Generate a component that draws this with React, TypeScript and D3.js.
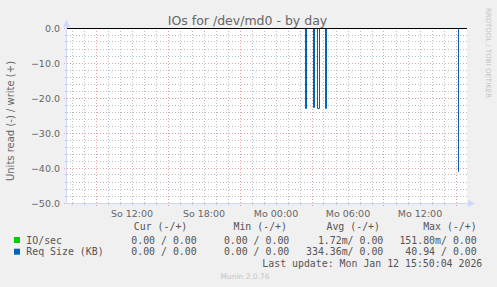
import React from "react";
import * as d3 from "d3";

const W = 497;
const H = 287;

const title = "IOs for /dev/md0 - by day";
const yAxisLabel = "Units read (-) / write (+)";
const dayNames = ["So", "Mo", "Di", "Mi", "Do", "Fr", "Sa"];

const startTime = new Date(2026, 0, 11, 6, 35);
const endTime = new Date(2026, 0, 12, 15, 55);

const yMin = -50;
const yMax = 0;
const yMajorTicks = [0, -10, -20, -30, -40, -50];

// Req Size (KB) read side (drawn negative), samples every 5 min
const reqTimes = [
  "2026-01-12T02:20", "2026-01-12T02:25", "2026-01-12T02:30",
  "2026-01-12T03:00", "2026-01-12T03:05", "2026-01-12T03:10",
  "2026-01-12T03:25", "2026-01-12T03:30", "2026-01-12T03:35",
  "2026-01-12T04:00", "2026-01-12T04:05", "2026-01-12T04:10",
  "2026-01-12T15:05", "2026-01-12T15:10", "2026-01-12T15:15",
];
const reqValues = [
  0, -22.9, 0,
  0, -22.8, 0,
  0, -23.0, 0,
  0, -22.9, 0,
  0, -40.94, 0,
];

// IO/sec read side (drawn negative)
const ioTimes = reqTimes;
const ioValues = [
  0, -0.12, 0,
  0, -0.15, 0,
  0, -0.1518, 0,
  0, -0.13, 0,
  0, -0.08, 0,
];

const legendHeaders = ["Cur (-/+)", "Min (-/+)", "Avg (-/+)", "Max (-/+)"];
const legendNames = ["IO/sec", "Req Size (KB)"];
const legendColors = ["#00CC00", "#0066B3"];
const legendCur = ["0.00 / 0.00", "0.00 / 0.00"];
const legendMin = ["0.00 / 0.00", "0.00 / 0.00"];
const legendAvg = ["1.72m/ 0.00", "334.36m/ 0.00"];
const legendMax = ["151.80m/ 0.00", "40.94 / 0.00"];
const lastUpdate = "Last update: Mon Jan 12 15:50:04 2026";
const muninVersion = "Munin 2.0.76";
const rrdCredit = "RRDTOOL / TOBI OETIKER";

const parse = (s: string) => {
  const [d, t] = s.split("T");
  const [yy, mm, dd] = d.split("-").map(Number);
  const [hh, mi] = t.split(":").map(Number);
  return new Date(yy, mm - 1, dd, hh, mi);
};

export default function App() {
  const left = 67, right = 467, top = 28, bottom = 203;
  const x = d3.scaleTime().domain([startTime, endTime]).range([left, right]);
  const y = d3.scaleLinear().domain([yMin, yMax]).range([bottom, top]);
  const px = (v: number) => Math.floor(v) + 0.5;

  const hours = d3.timeHour.range(d3.timeHour.ceil(startTime), endTime);
  const minorY = d3.range(yMin, yMax + 0.001, 2);

  const reqData = reqTimes.map((t, i) => ({ t: parse(t), v: reqValues[i] }));
  const ioData = ioTimes.map((t, i) => ({ t: parse(t), v: ioValues[i] }));
  const line = d3
    .line<{ t: Date; v: number }>()
    .x((d) => px(x(d.t)))
    .y((d) => px(y(d.v)))
    .curve(d3.curveStepAfter);

  const fontSans = "DejaVu Sans, sans-serif";
  const fontMono = "DejaVu Sans Mono, monospace";
  const fg = "#666666";
  const mono = "#555555";
  const minorColor = "#BDBDBD";
  const majorColor = "#E8A0A0";

  const colRight = [196.7, 289.3, 383.3, 476.7];
  const headerRight = [187.3, 287, 380, 476.7];
  const rowY = [243.5, 255.2];

  return (
    <svg width={W} height={H} style={{ display: "block", position: "absolute", left: 0, top: 0 }}>
      <rect x={0} y={0} width={W} height={H} fill="#F0F0F0" />
      <rect x={left} y={top} width={right - left} height={bottom - top} fill="#FFFFFF" />

      {/* minor grid */}
      {hours.filter((h) => h.getHours() % 6 !== 3).map((h, i) => (
        <g key={"mx" + i}>
          <line x1={px(x(h))} x2={px(x(h))} y1={top} y2={bottom} stroke={minorColor} strokeDasharray="1,2" />
          <line x1={px(x(h))} x2={px(x(h))} y1={bottom} y2={bottom + 2} stroke={minorColor} />
        </g>
      ))}
      {minorY.filter((v) => v % 10 !== 0).map((v, i) => (
        <g key={"my" + i}>
          <line x1={left} x2={right} y1={px(y(v))} y2={px(y(v))} stroke={minorColor} strokeDasharray="1,2" />
          <line x1={left - 2} x2={left} y1={px(y(v))} y2={px(y(v))} stroke={minorColor} />
        </g>
      ))}
      {/* major grid */}
      {hours.filter((h) => h.getHours() % 6 === 3).map((h, i) => (
        <line key={"Mx" + i} x1={px(x(h))} x2={px(x(h))} y1={top} y2={bottom + 3} stroke={majorColor} strokeDasharray="1,2" />
      ))}
      {yMajorTicks.map((v, i) => (
        <line key={"My" + i} x1={left - 3} x2={right} y1={px(y(v))} y2={px(y(v))} stroke={majorColor} strokeDasharray="1,2" />
      ))}

      {/* axes */}
      <line x1={66.5} x2={66.5} y1={bottom + 1} y2={24} stroke="#CFD6F8" />
      <path d={`M63,27 L66.5,20 L70,27 Z`} fill="#CFD6F8" />
      <line x1={66} x2={470} y1={203.5} y2={203.5} stroke="#CFD6F8" />
      <path d={`M468,200 L475,203.5 L468,207 Z`} fill="#CFD6F8" />

      {/* series */}
      <path d={line(ioData) || ""} fill="none" stroke={legendColors[0]} strokeWidth={1} />
      <path d={line(reqData) || ""} fill="none" stroke={legendColors[1]} strokeWidth={1} />
      <line x1={left} x2={right} y1={px(y(0))} y2={px(y(0))} stroke="#000000" />

      {/* y tick labels */}
      {yMajorTicks.map((v, i) => (
        <text key={"yl" + i} x={60} y={y(v) + 3.5} textAnchor="end" fontFamily={fontSans} fontSize={9.5} fill={fg}>
          {d3.format(".1f")(v)}
        </text>
      ))}
      {/* x tick labels */}
      {hours.filter((h) => h.getHours() % 6 === 0).map((h, i) => (
        <text key={"xl" + i} x={x(h)} y={216.5} textAnchor="middle" fontFamily={fontSans} fontSize={9.5} fill={fg}>
          {dayNames[h.getDay()] + " " + d3.timeFormat("%H:%M")(h)}
        </text>
      ))}

      <text x={247.5} y={25} textAnchor="middle" fontFamily={fontSans} fontSize={12.5} fill={fg}>{title}</text>
      <text transform={`translate(14,121) rotate(-90)`} textAnchor="middle" fontFamily={fontSans} fontSize={10} fill={fg}>{yAxisLabel}</text>
      <text transform={`translate(485.5,53) rotate(90)`} textAnchor="middle" fontFamily={fontSans} fontSize={7} fill="#C4C4C4">{rrdCredit}</text>

      {/* legend */}
      {legendHeaders.map((hd, i) => (
        <text key={"lh" + i} x={headerRight[i]} y={230.2} textAnchor="end" fontFamily={fontMono} fontSize={9.9} fill={mono} style={{ whiteSpace: "pre" }}>{hd}</text>
      ))}
      {legendNames.map((n, r) => (
        <g key={"lr" + r}>
          <rect x={14} y={rowY[r] - 6.5} width={6} height={6} fill={legendColors[r]} />
          <text x={26.3} y={rowY[r]} fontFamily={fontMono} fontSize={9.9} fill={mono} style={{ whiteSpace: "pre" }}>{n}</text>
          {[legendCur, legendMin, legendAvg, legendMax].map((col, c) => (
            <text key={c} x={colRight[c]} y={rowY[r]} textAnchor="end" fontFamily={fontMono} fontSize={9.9} fill={mono} style={{ whiteSpace: "pre" }}>{col[r]}</text>
          ))}
        </g>
      ))}
      <text x={482.3} y={266.8} textAnchor="end" fontFamily={fontMono} fontSize={9.9} fill={mono}>{lastUpdate}</text>
      <text x={245} y={279} textAnchor="middle" fontFamily={fontSans} fontSize={7.5} fill="#C4C4C4">{muninVersion}</text>
    </svg>
  );
}
